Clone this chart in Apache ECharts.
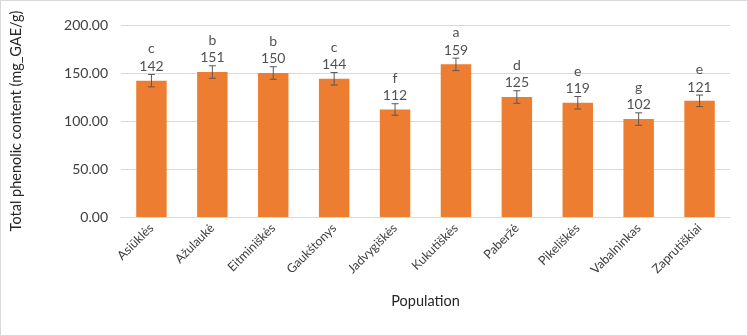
<!DOCTYPE html>
<html lang="en">
<head>
<meta charset="UTF-8">
<title>Total phenolic content</title>
<script src="https://cdn.jsdelivr.net/npm/echarts@6/dist/echarts.min.js"></script>
<style>
  html, body { margin: 0; padding: 0; background: #fff; }
  #main { width: 748px; height: 336px; box-sizing: border-box; border: 1px solid #d9d9d9; }
</style>
</head>
<body>
<div id="main"></div>
<script type="text/javascript">
  // data
  var populations = ['Asiūklės', 'Ažulaukė', 'Eitminiškės', 'Gaukštonys', 'Jadvygiškės',
                     'Kukutiškės', 'Paberžė', 'Pikeliškės', 'Vabalninkas', 'Zaprutiškiai'];
  var phenolic = [142, 151, 150, 144, 112, 159, 125, 119, 102, 121];
  var errors = [6.5, 6.5, 6.5, 6.5, 6, 6.5, 6.5, 6.5, 6.5, 6];
  var letters = ['c', 'b', 'b', 'c', 'f', 'a', 'd', 'e', 'g', 'e'];
  var yTicks = [0, 50, 100, 150, 200];

  var font = 'Lato';
  var myChart = echarts.init(document.getElementById('main'));

  var errData = phenolic.map(function (v, i) { return [i, v - errors[i], v + errors[i]]; });
  var labelData = phenolic.map(function (v, i) { return [i, v + errors[i]]; });

  myChart.setOption({
    animation: false,
    grid: { left: 109, right: 17, top: 24, bottom: 118 },
    xAxis: {
      type: 'category',
      data: populations,
      name: 'Population',
      nameLocation: 'middle',
      nameGap: 77,
      nameTextStyle: { fontFamily: font, fontSize: 14.5, color: '#262626' },
      axisLine: { lineStyle: { color: '#d9d9d9' } },
      axisTick: { show: false },
      axisLabel: { rotate: 45, fontFamily: font, fontSize: 12.5, color: '#404040', margin: 9, interval: 0 }
    },
    yAxis: {
      type: 'value',
      min: yTicks[0],
      max: yTicks[yTicks.length - 1],
      interval: 50,
      name: 'Total phenolic content (mg_GAE/g)',
      nameLocation: 'middle',
      nameGap: 97,
      nameTextStyle: { fontFamily: font, fontSize: 14.5, color: '#262626' },
      axisLine: { show: false },
      axisTick: { show: false },
      splitLine: { lineStyle: { color: '#d9d9d9' } },
      axisLabel: {
        fontFamily: font, fontSize: 14, color: '#404040', margin: 13,
        formatter: function (v) { return v.toFixed(2); }
      }
    },
    series: [
      {
        type: 'bar',
        data: phenolic,
        barWidth: '50%',
        itemStyle: { color: '#ed7d31' }
      },
      {
        type: 'custom',
        data: errData,
        z: 5,
        renderItem: function (params, api) {
          var x = api.coord([api.value(0), api.value(1)])[0];
          var lo = api.coord([api.value(0), api.value(1)])[1];
          var hi = api.coord([api.value(0), api.value(2)])[1];
          var w = 3.5;
          var st = { stroke: '#595959', lineWidth: 1 };
          return {
            type: 'group',
            children: [
              { type: 'line', shape: { x1: x, y1: lo, x2: x, y2: hi }, style: st },
              { type: 'line', shape: { x1: x - w, y1: lo, x2: x + w, y2: lo }, style: st },
              { type: 'line', shape: { x1: x - w, y1: hi, x2: x + w, y2: hi }, style: st }
            ]
          };
        }
      },
      {
        type: 'scatter',
        data: labelData,
        symbolSize: 0,
        z: 6,
        label: {
          show: true,
          position: 'top',
          distance: 0,
          fontFamily: font,
          color: '#262626',
          formatter: function (p) {
            return '{l|' + letters[p.dataIndex] + '}\n{v|' + phenolic[p.dataIndex] + '}';
          },
          rich: {
            l: { fontFamily: font, fontSize: 14, color: '#262626', lineHeight: 19 },
            v: { fontFamily: font, fontSize: 14, color: '#262626', lineHeight: 16 }
          }
        }
      }
    ]
  });
</script>
</body>
</html>
